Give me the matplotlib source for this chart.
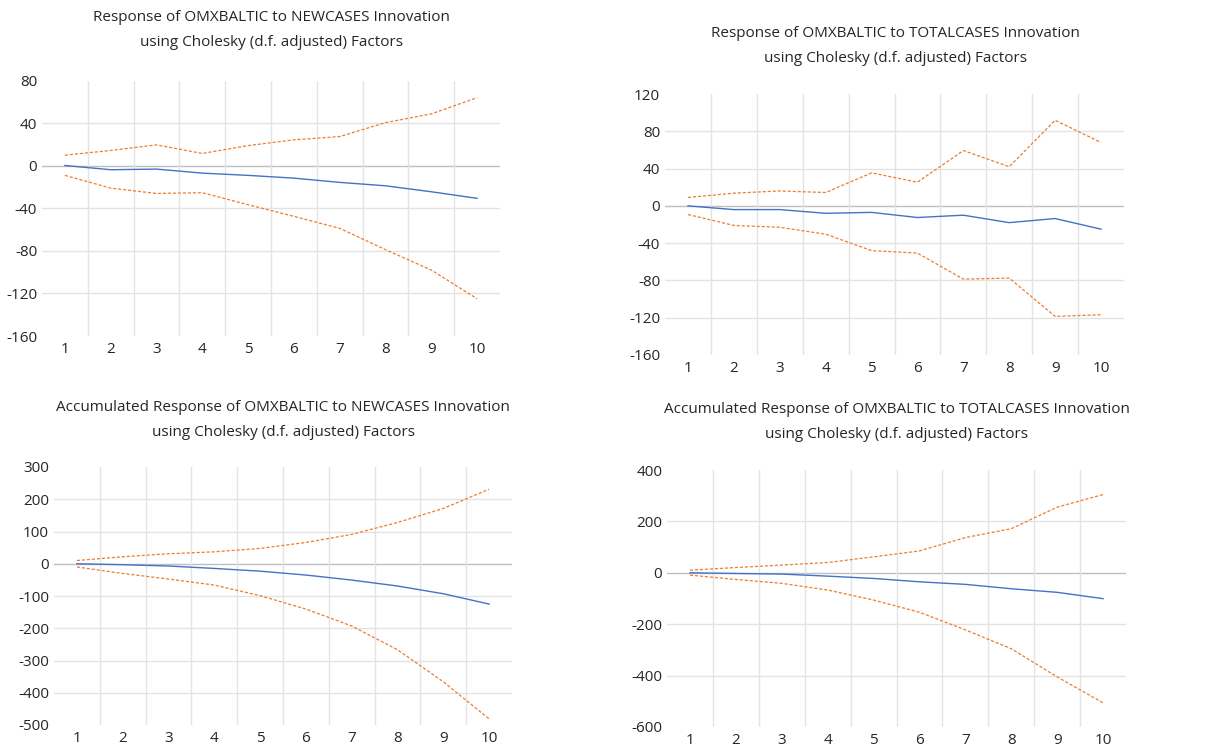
import matplotlib.pyplot as plt

# periods on the horizontal axis
periods = [1, 2, 3, 4, 5, 6, 7, 8, 9, 10]

# Response to NEWCASES
new_resp = [0.3, -3.7, -3.1, -6.9, -9.0, -11.6, -15.6, -18.8, -24.4, -30.6]
new_upper = [10.0, 14.4, 19.7, 11.6, 19.0, 24.4, 27.5, 40.6, 48.8, 64.0]
new_lower = [-9.0, -21.0, -26.0, -25.3, -36.6, -47.5, -58.8, -78.8, -98.0, -125.0]

# Response to TOTALCASES
tot_resp = [0.0, -4.0, -4.0, -8.0, -7.0, -12.5, -10.0, -18.0, -13.6, -25.0]
tot_upper = [9.0, 13.6, 16.0, 14.3, 35.4, 25.4, 59.3, 42.0, 91.8, 68.0]
tot_lower = [-9.3, -21.0, -23.0, -30.4, -48.0, -50.7, -78.6, -77.5, -118.6, -116.8]

# Accumulated response to NEWCASES
acc_new_resp = [0.0, -3.0, -7.0, -14.5, -23.0, -35.0, -50.6, -69.0, -93.0, -125.0]
acc_new_upper = [10.0, 21.7, 31.0, 37.0, 47.5, 66.0, 91.0, 128.0, 171.5, 231.0]
acc_new_lower = [-10.0, -30.0, -47.5, -66.0, -99.0, -140.5, -193.0, -266.5, -366.0, -481.0]

# Accumulated response to TOTALCASES
acc_tot_resp = [0.0, -2.6, -5.0, -13.0, -22.0, -35.0, -45.0, -62.0, -76.0, -100.6]
acc_tot_upper = [10.0, 20.6, 30.0, 40.0, 62.0, 85.0, 137.0, 171.6, 255.5, 304.5]
acc_tot_lower = [-9.0, -26.0, -41.0, -67.0, -106.0, -153.5, -222.0, -295.5, -405.0, -506.0]

BLUE = "#4472C4"
ORANGE = "#ED7D31"
W, H = 1219, 748

plt.rcParams["font.family"] = ["Open Sans", "DejaVu Sans"]
plt.rcParams["axes.unicode_minus"] = False

fig = plt.figure(figsize=(W / 100, H / 100), dpi=100)


def box(left, right, top, bottom):
    # pixel box -> figure fraction
    return [left / W, 1 - bottom / H, (right - left) / W, (bottom - top) / H]


def panel(rect, resp, upper, lower, ymin, ymax, step, title, title_xy):
    ax = fig.add_axes(rect)
    ax.set_xlim(0.5, 10.5)
    ax.set_ylim(ymin, ymax)
    yt = list(range(ymin, ymax + 1, step))
    ax.set_yticks(yt)
    ax.set_xticks(periods)
    ax.tick_params(length=0, labelsize=11, colors="#262626")
    ax.tick_params(axis="y", pad=3.5)
    ax.tick_params(axis="x", pad=4)
    for s in ax.spines.values():
        s.set_visible(False)
    for v in yt[1:-1]:
        ax.axhline(v, color="#BFBFBF" if v == 0 else "#E3E3E3",
                   lw=1.0, zorder=1)
    for x in periods[:-1]:
        ax.axvline(x + 0.5, color="#E3E3E3", lw=1.0, zorder=1)
    ax.plot(periods, upper, color=ORANGE, lw=0.9, ls=(0, (2.5, 1.5)), zorder=3)
    ax.plot(periods, lower, color=ORANGE, lw=0.9, ls=(0, (2.5, 1.5)), zorder=3)
    ax.plot(periods, resp, color=BLUE, lw=1.0, zorder=4)
    fig.text(title_xy[0] / W, 1 - title_xy[1] / H, title, ha="center",
             va="center", fontsize=11, color="#262626", linespacing=1.95)
    return ax


panel(box(42, 500, 80.7, 336), new_resp, new_upper, new_lower, -160, 80, 40,
      "Response of OMXBALTIC to NEWCASES Innovation\n"
      "using Cholesky (d.f. adjusted) Factors", (271, 30))
panel(box(665, 1124, 94, 355), tot_resp, tot_upper, tot_lower, -160, 120, 40,
      "Response of OMXBALTIC to TOTALCASES Innovation\n"
      "using Cholesky (d.f. adjusted) Factors", (895, 46))
panel(box(54, 512, 467, 725), acc_new_resp, acc_new_upper, acc_new_lower,
      -500, 300, 100,
      "Accumulated Response of OMXBALTIC to NEWCASES Innovation\n"
      "using Cholesky (d.f. adjusted) Factors", (283, 420))
panel(box(667, 1126, 470, 727), acc_tot_resp, acc_tot_upper, acc_tot_lower,
      -600, 400, 200,
      "Accumulated Response of OMXBALTIC to TOTALCASES Innovation\n"
      "using Cholesky (d.f. adjusted) Factors", (897, 422))

fig.savefig("out.png", dpi=100)
